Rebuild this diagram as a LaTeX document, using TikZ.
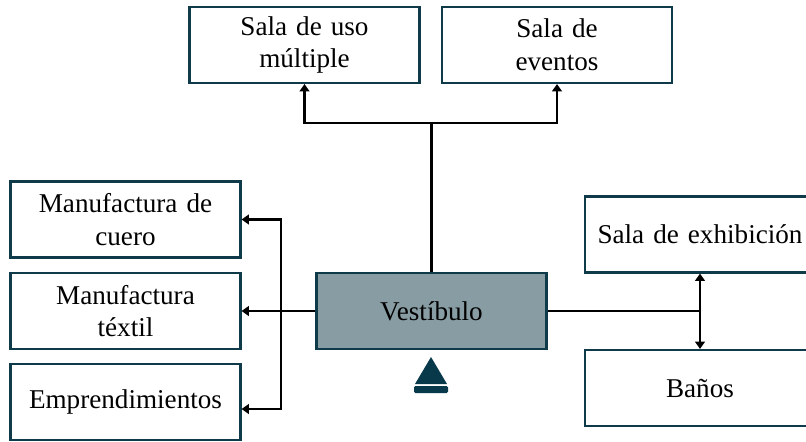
\documentclass[tikz,border=0pt]{standalone}
\usepackage{fontspec}
\setmainfont{Liberation Serif}
\usepackage{xcolor}
\definecolor{plborder}{RGB}{14,58,74}
\definecolor{plfill}{RGB}{135,156,163}
\definecolor{pldark}{RGB}{8,57,74}
\usetikzlibrary{arrows.meta, positioning}

\tikzset{
  roombox/.style={draw=plborder, line width=1.5pt, fill=white,
    minimum width=5.75cm, minimum height=1.9cm, text width=5.5cm,
    align=center, inner sep=2pt, font=\fontsize{19.3}{23.2}\selectfont},
  hallbox/.style={roombox, fill=plfill},
  link/.style={black, line width=1.6pt},
  linkto/.style={link, -{Triangle[length=1.8mm, width=2.4mm]}},
  linkboth/.style={link, {Triangle[length=1.8mm, width=2.4mm]}-{Triangle[length=1.8mm, width=2.4mm]}}
}

\begin{document}
\begin{tikzpicture}[x=0.025cm, y=-0.025cm]

\clip (0,0) rectangle (806,441);

% --- Upper rooms ---
\node[roombox] (multiple) at (304.5,45) {Sala de uso\\múltiple};
\node[roombox] (eventos) at (557,45) {Sala de\\eventos};

% --- Left rooms ---
\node[roombox] (cuero) at (125.5,219.5) {Manufactura de\\cuero};
\node[roombox] (textil) at (125.5,311) {Manufactura\\téxtil};
\node[roombox] (empren) at (125.5,402) {Emprendimientos};

% --- Hall ---
\node[hallbox] (vestibulo) at (431.5,311) {Vestíbulo};

% --- Right rooms ---
\node[roombox] (exhib) at (700,234.5) {Sala de exhibición};
\node[roombox] (banos) at (700,388) {Baños};

% Junction points
\coordinate (topjoin) at (vestibulo.north |- 0,123);
\coordinate (leftjoin) at (281,311);
\coordinate (rightjoin) at (exhib.south |- vestibulo.east);

% Hall to upper rooms
\draw[link] (vestibulo.north) -- (topjoin);
\draw[linkto] (topjoin) -| (multiple.south);
\draw[linkto] (topjoin) -| (eventos.south);

% Hall to left rooms
\draw[link] (vestibulo.west) -- (leftjoin);
\draw[linkto] (leftjoin) -- (textil.east);
\draw[linkto] (leftjoin) |- (cuero.east);
\draw[linkto] (leftjoin) |- (empren.east |- 0,409);

% Hall to right rooms
\draw[link] (vestibulo.east) -- (rightjoin);
\draw[linkboth] (exhib.south) -- (banos.north);

% Entrance symbol
\fill[pldark] (415,384) -- (447,384) -- (431,357) -- cycle;
\fill[pldark, rounded corners=1pt] (414,386) rectangle (448,393);

\end{tikzpicture}
\end{document}
